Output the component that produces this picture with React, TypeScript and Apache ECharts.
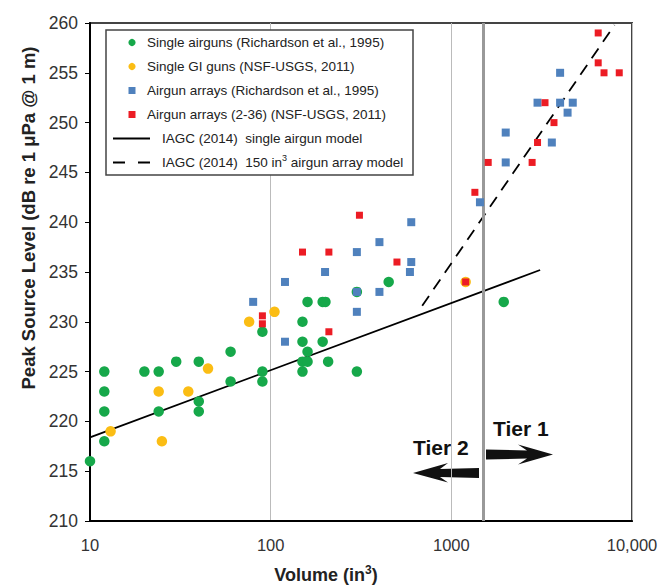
import React, { useEffect, useRef } from "react";
import * as echarts from "echarts";

const FONT = '"Liberation Sans", Arial, Helvetica, sans-serif';

// Volume (in^3) vs peak source level (dB re 1 µPa @ 1 m)
const singleAirguns: [number, number][] = [
  [10, 216], [12, 225], [12, 223], [12, 221], [12, 218],
  [20, 225], [24, 225], [24, 221], [30, 226], [40, 226], [40, 222], [40, 221],
  [60, 227], [60, 224], [90, 229], [90, 225], [90, 224],
  [150, 230], [150, 228], [150, 226], [150, 225], [160, 232], [160, 227], [160, 226],
  [194, 232], [201, 232], [194, 228], [208, 226], [300, 233], [300, 225], [450, 234], [1950, 232],
];

const singleGIGuns: [number, number][] = [
  [13, 219], [24, 223], [25, 218], [35, 223], [45, 225.3], [76, 230], [105, 231], [1200, 234],
];

const arraysRichardson: [number, number][] = [
  [80, 232], [120, 234], [120, 228], [200, 235], [300, 237], [300, 233], [300, 231],
  [400, 238], [400, 233], [600, 240], [600, 236], [590, 235], [1440, 242],
  [2000, 249], [2000, 246], [3000, 252], [3600, 248], [4000, 255], [4000, 252],
  [4400, 251], [4700, 252],
];

const arraysNSF: [number, number][] = [
  [90, 230.6], [90, 229.8], [150, 237], [210, 237], [210, 229], [310, 240.7], [500, 236],
  [1200, 234], [1350, 243], [1600, 246], [2800, 246], [3000, 248], [3300, 252],
  [3700, 250], [6500, 259], [6500, 256], [7000, 255], [8500, 255],
];

// IAGC (2014) model lines
const singleGunModel: [number, number][] = [[10, 218.4], [3100, 235.2]];
const arrayModel: [number, number][] = [[690, 231.6], [8000, 259.8]];

const tierBoundary = 1500;
const xTickLabels: Record<number, string> = { 10: "10", 100: "100", 1000: "1000", 10000: "10,000" };

const COLORS = {
  green: "#16a84a",
  yellow: "#fbbd14",
  blue: "#4f81bd",
  red: "#ec1c24",
};

const scatterLegend = [
  { name: "Single airguns (Richardson et al., 1995)", color: COLORS.green, shape: "circle" },
  { name: "Single GI guns (NSF-USGS, 2011)", color: COLORS.yellow, shape: "circle" },
  { name: "Airgun arrays (Richardson et al., 1995)", color: COLORS.blue, shape: "rect" },
  { name: "Airgun arrays (2-36) (NSF-USGS, 2011)", color: COLORS.red, shape: "rect" },
];

const lineLegend = [
  { text: "{a|IAGC (2014)  single airgun model}", dash: null as number[] | null },
  { text: "{a|IAGC (2014)  150 in}{s|3}{a| airgun array model}", dash: [12, 13] },
];

function buildLegend(): any[] {
  const els: any[] = [];
  const boxX = 106, boxY = 30, boxW = 307, boxH = 145;
  els.push({
    type: "rect",
    shape: { x: boxX, y: boxY, width: boxW, height: boxH },
    style: { fill: "#fff", stroke: "#444", lineWidth: 1.5 },
    z: 10,
  });
  const rowY0 = 42.5, rowStep = 24;
  scatterLegend.forEach((item, i) => {
    const cy = rowY0 + i * rowStep;
    if (item.shape === "circle") {
      els.push({ type: "circle", shape: { cx: 132, cy, r: 3.6 }, style: { fill: item.color }, z: 11 });
    } else {
      els.push({ type: "rect", shape: { x: 128.5, y: cy - 3.5, width: 7, height: 7 }, style: { fill: item.color }, z: 11 });
    }
    els.push({
      type: "text",
      x: 147,
      y: cy,
      style: {
        text: item.name, fontFamily: FONT, fontSize: 13.5, fill: "#222",
        textAlign: "left", textVerticalAlign: "middle", align: "left", verticalAlign: "middle",
      },
      z: 11,
    });
  });
  lineLegend.forEach((item, i) => {
    const cy = rowY0 + (i + 4) * rowStep;
    els.push({
      type: "line",
      shape: { x1: 113, y1: cy, x2: 150, y2: cy },
      style: { stroke: "#000", lineWidth: 1.8, lineDash: item.dash || undefined },
      z: 11,
    });
    els.push({
      type: "text",
      x: 162,
      y: cy,
      style: {
        text: item.text,
        rich: {
          a: { fontFamily: FONT, fontSize: 13.5, fill: "#222", lineHeight: 18 },
          s: { fontFamily: FONT, fontSize: 9, fill: "#222", lineHeight: 9, verticalAlign: "top" },
        },
        textAlign: "left", textVerticalAlign: "middle", align: "left", verticalAlign: "middle",
      },
      z: 11,
    });
  });
  return els;
}

function buildAnnotations(): any[] {
  return [
    {
      type: "text",
      x: 28,
      y: 218,
      rotation: Math.PI / 2,
      style: {
        text: "Peak Source Level (dB re 1 \u03bcPa @ 1 m)",
        fontFamily: FONT, fontSize: 18.5, fontWeight: "bold", fill: "#222",
        textAlign: "center", textVerticalAlign: "middle", align: "center", verticalAlign: "middle",
      },
    },
    {
      type: "text",
      x: 326,
      y: 575,
      style: {
        text: "{b|Volume (in}{s|3}{b|)}",
        rich: {
          b: { fontFamily: FONT, fontSize: 18, fontWeight: "bold", fill: "#222", lineHeight: 22 },
          s: { fontFamily: FONT, fontSize: 12, fontWeight: "bold", fill: "#222", lineHeight: 12, verticalAlign: "top" },
        },
        textAlign: "center", textVerticalAlign: "middle", align: "center", verticalAlign: "middle",
      },
    },
    {
      type: "text",
      x: 493,
      y: 428,
      style: {
        text: "Tier 1", fontFamily: FONT, fontSize: 21, fontWeight: "bold", fill: "#111",
        textAlign: "left", textVerticalAlign: "middle", align: "left", verticalAlign: "middle",
      },
    },
    {
      type: "text",
      x: 413,
      y: 447,
      style: {
        text: "Tier 2", fontFamily: FONT, fontSize: 21, fontWeight: "bold", fill: "#111",
        textAlign: "left", textVerticalAlign: "middle", align: "left", verticalAlign: "middle",
      },
    },
    {
      // arrow pointing right (Tier 1)
      type: "polygon",
      shape: {
        points: [[486, 449.5], [527, 450.5], [518, 444.5], [553, 454.5], [518, 464.5], [527, 458.5], [486, 459.5]],
      },
      style: { fill: "#111" },
    },
    {
      // arrow pointing left (Tier 2)
      type: "polygon",
      shape: {
        points: [[479, 468], [440, 469], [448, 463], [413, 473], [448, 482.5], [440, 477], [479, 478]],
      },
      style: { fill: "#111" },
    },
    ...buildLegend(),
  ];
}

export default function App() {
  const ref = useRef<HTMLDivElement>(null);

  useEffect(() => {
    if (!ref.current) return;
    const chart = echarts.init(ref.current, undefined, { renderer: "svg" });
    chart.setOption({
      animation: false,
      backgroundColor: "#fff",
      grid: { left: 90, right: 30, top: 23, bottom: 64, show: true, borderColor: "#444", borderWidth: 2 },
      xAxis: {
        type: "log",
        logBase: 10,
        min: 10,
        max: 10000,
        axisLine: { show: true, onZero: false, lineStyle: { color: "#000", width: 2 } },
        axisTick: { show: false },
        axisLabel: {
          fontFamily: FONT, fontSize: 16.5, color: "#333", margin: 15,
          formatter: (v: number) => xTickLabels[Math.round(v)] ?? "",
        },
        splitLine: { show: true, lineStyle: { color: "#bbb", width: 1 } },
      },
      yAxis: {
        type: "value",
        min: 210,
        max: 260,
        interval: 5,
        axisLine: { show: true, lineStyle: { color: "#000", width: 2 } },
        axisTick: { show: true, inside: false, length: 5, lineStyle: { color: "#000", width: 1 } },
        axisLabel: { fontFamily: FONT, fontSize: 17.5, color: "#333", margin: 12 },
        splitLine: { show: false },
      },
      series: [
        {
          name: "IAGC (2014) single airgun model",
          type: "line",
          data: singleGunModel,
          symbol: "none",
          lineStyle: { color: "#000", width: 1.8 },
          z: 2,
          markLine: {
            silent: true,
            symbol: "none",
            label: { show: false },
            lineStyle: { color: "#999", width: 3, type: "solid" },
            data: [{ xAxis: tierBoundary }],
          },
        },
        {
          name: "IAGC (2014) 150 in3 airgun array model",
          type: "line",
          data: arrayModel,
          symbol: "none",
          lineStyle: { color: "#000", width: 1.8, type: [12, 8] },
          z: 2,
        },
        {
          name: scatterLegend[0].name,
          type: "scatter",
          data: singleAirguns,
          symbol: "circle",
          symbolSize: 10.5,
          itemStyle: { color: COLORS.green, opacity: 1 },
          z: 3,
        },
        {
          name: scatterLegend[1].name,
          type: "scatter",
          data: singleGIGuns,
          symbol: "circle",
          symbolSize: 10.5,
          itemStyle: { color: COLORS.yellow, opacity: 1 },
          z: 4,
        },
        {
          name: scatterLegend[2].name,
          type: "scatter",
          data: arraysRichardson,
          symbol: "rect",
          symbolSize: 8,
          itemStyle: { color: COLORS.blue, opacity: 1 },
          z: 5,
        },
        {
          name: scatterLegend[3].name,
          type: "scatter",
          data: arraysNSF,
          symbol: "rect",
          symbolSize: 7,
          itemStyle: { color: COLORS.red, opacity: 1 },
          z: 6,
        },
      ],
      graphic: buildAnnotations(),
    });
    return () => chart.dispose();
  }, []);

  return (
    <div
      ref={ref}
      style={{ position: "absolute", left: 0, top: 0, width: 662, height: 585, background: "#fff" }}
    />
  );
}
